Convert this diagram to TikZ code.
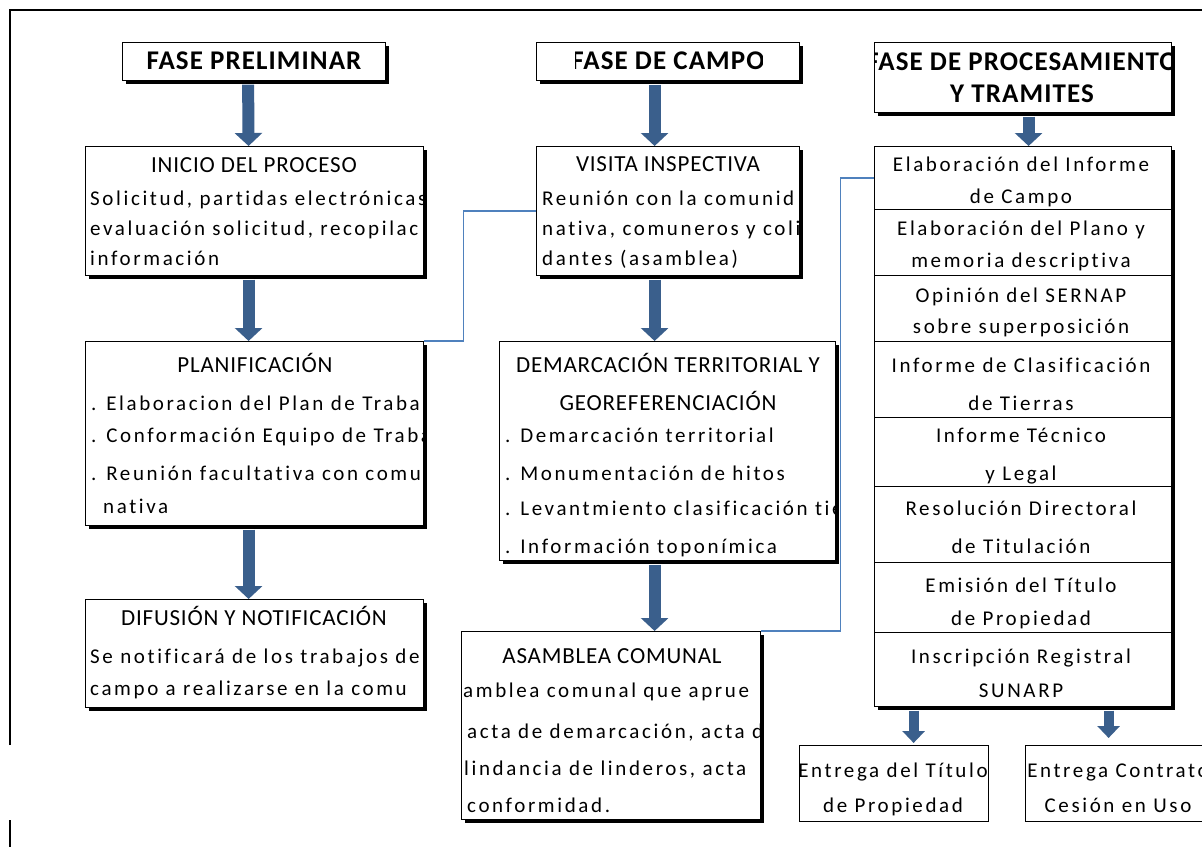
\documentclass[tikz,border=0pt]{standalone}
\usepackage{fontspec}
\setmainfont{Carlito}
\newfontfamily\bodyfont[LetterSpace=12.5, Ligatures=NoCommon, Contextuals=NoAlternate]{Carlito}
\newfontfamily\headfont[LetterSpace=3.5, Ligatures=NoCommon, Contextuals=NoAlternate]{Carlito}
\newfontfamily\titlefont[LetterSpace=4]{Carlito}
\usepackage{tikz}
\usetikzlibrary{arrows.meta,shadows}

\definecolor{arrowblue}{RGB}{58,95,140}
\definecolor{linkblue}{RGB}{79,129,189}

\tikzset{
  shadowbox/.style={draw, line width=1.2pt, fill=white, inner sep=0pt, anchor=north west,
    drop shadow={shadow xshift=3.5pt, shadow yshift=-3.5pt, fill=black, opacity=1}},
  plainbox/.style={draw, line width=1.2pt, fill=white, inner sep=0pt, anchor=north west},
  rowbox/.style={draw, line width=1.2pt, inner sep=0pt, anchor=north west, minimum width=297pt},
  titletxt/.style={anchor=base, inner sep=0pt, font=\titlefont\bfseries\fontsize{27}{30}\selectfont},
  headtxt/.style={anchor=base, inner sep=0pt, font=\headfont\fontsize{23}{26}\selectfont},
  bodytxt/.style={anchor=base west, inner sep=0pt, font=\bodyfont\fontsize{21}{24}\selectfont},
  celltxt/.style={anchor=base, inner sep=0pt, font=\bodyfont\fontsize{21}{24}\selectfont},
  blockarrow/.style={arrowblue, line width=12pt, -{Triangle[width=27pt, length=13pt]}},
  smallarrow/.style={arrowblue, line width=10pt, -{Triangle[width=22pt, length=12pt]}},
  link/.style={linkblue, line width=1.3pt},
}

\begin{document}
\begin{tikzpicture}[x=1pt, y=-1pt]

    %% Background
    \useasboundingbox (0,0) rectangle (1202,846);
    \fill[white] (0,0) rectangle (1202,846);

    % Frame
    \draw[line width=1.8pt] (10,745) -- (10,10) -- (1206,10);
    \draw[line width=1.8pt] (10,820) -- (10,850);

    % Titles
    \node[shadowbox, minimum width=263pt, minimum height=38pt] (prelim) at (122,42) {};
    \node[titletxt] (prelim-t) at (254,69) {FASE PRELIMINAR};

    \node[shadowbox, minimum width=263pt, minimum height=38pt] (campo) at (536,42) {};
    \begin{scope}
      \clip (575,42) rectangle (762,80);
      \node[titletxt] (campo-t) at (668,69) {FASE DE CAMPO};
    \end{scope}

    \node[shadowbox, minimum width=297pt, minimum height=70pt] (proces) at (874,42) {};
    \begin{scope}
      \clip (proces.north west) rectangle (proces.south east);
      \node[titletxt] (proces-t1) at (1022,70) {FASE DE PROCESAMIENTO};
      \node[titletxt] (proces-t2) at (1022,102) {Y TRAMITES};
    \end{scope}

    % Inicio del proceso
    \node[shadowbox, minimum width=338pt, minimum height=129pt] (inicio) at (85,146) {};
    \begin{scope}
      \clip (inicio.north west) rectangle (inicio.south east);
      \node[headtxt] (inicio-h) at (254,172) {INICIO DEL PROCESO};
      \foreach \yl/\tl in {205/{Solicitud, partidas electrónicas}, 235/{evaluación solicitud, recopilac}, 265/{información}}
        \node[bodytxt] (inicio-\yl) at (90,\yl) {\tl};
    \end{scope}

    % Planificacion
    \node[shadowbox, minimum width=338pt, minimum height=184pt] (planif) at (85,341) {};
    \begin{scope}
      \clip (planif.north west) rectangle (planif.south east);
      \node[headtxt] (planif-h) at (255,372) {PLANIFICACIÓN};
      \foreach \yl/\tl in {410/{. Elaboracion del Plan de Traba}, 442/{. Conformación Equipo de Traba}, 480/{. Reunión facultativa con comu}}
        \node[bodytxt] (planif-\yl) at (91,\yl) {\tl};
      \node[bodytxt] (planif-513) at (103,513) {nativa};
    \end{scope}

    % Difusion
    \node[shadowbox, minimum width=338pt, minimum height=108pt] (difus) at (85,599) {};
    \begin{scope}
      \clip (difus.north west) rectangle (difus.south east);
      \node[headtxt] (difus-h) at (254,625) {DIFUSIÓN Y NOTIFICACIÓN};
      \foreach \yl/\tl in {663/{Se notificará de los trabajos de}, 695/{campo a realizarse en la comu}}
        \node[bodytxt] (difus-\yl) at (90,\yl) {\tl};
    \end{scope}

    % Visita inspectiva
    \node[shadowbox, minimum width=263pt, minimum height=129pt] (visita) at (536,146) {};
    \begin{scope}
      \clip (visita.north west) rectangle (visita.south east);
      \node[headtxt] (visita-h) at (668,171) {VISITA INSPECTIVA};
      \foreach \yl/\tl in {205/{Reunión con la comunid}, 235/{nativa, comuneros y coli}, 265/{dantes (asamblea)}}
        \node[bodytxt] (visita-\yl) at (542,\yl) {\tl};
    \end{scope}

    % Demarcacion
    \node[shadowbox, minimum width=336pt, minimum height=219pt] (demarc) at (499,341) {};
    \begin{scope}
      \clip (demarc.north west) rectangle (demarc.south east);
      \node[headtxt] (demarc-h1) at (668,372) {DEMARCACIÓN TERRITORIAL Y};
      \node[headtxt] (demarc-h2) at (668,410) {GEOREFERENCIACIÓN};
      \foreach \yl/\tl in {442/{. Demarcación territorial}, 480/{. Monumentación de hitos}, 515/{. Levantmiento clasificación tie}, 553/{. Información toponímica}}
        \node[bodytxt] (demarc-\yl) at (505,\yl) {\tl};
    \end{scope}

    % Asamblea
    \node[shadowbox, minimum width=299pt, minimum height=188pt] (asamb) at (461,631) {};
    \begin{scope}
      \clip (asamb.north west) rectangle (asamb.south east);
      \node[headtxt] (asamb-h) at (612,663) {ASAMBLEA COMUNAL};
      \foreach \xl/\yl/\tl in {463/697/{amblea comunal que aprue}, 467/738/{acta de demarcación, acta d}, 464/775/{lindancia de linderos, acta}, 467/812/{conformidad.}}
        \node[bodytxt] (asamb-\yl) at (\xl,\yl) {\tl};
    \end{scope}

    % Tramites
    \node[shadowbox, minimum width=297pt, minimum height=560pt] (tramites) at (874,146) {};
    \foreach \n/\ya/\yb/\ba/\bb/\ta/\tb in {
        1/146/209/171/203/{Elaboración del Informe}/{de Campo},
        2/209/275/235/267/{Elaboración del Plano y}/{memoria descriptiva},
        3/275/341/302/333/{Opinión del SERNAP}/{sobre superposición},
        4/341/417/372/410/{Informe de Clasificación}/{de Tierras},
        5/417/486/442/480/{Informe Técnico}/{y Legal},
        6/486/562/515/553/{Resolución Directoral}/{de Titulación},
        7/562/632/592/625/{Emisión del Título}/{de Propiedad},
        8/632/706/663/697/{Inscripción Registral}/{SUNARP}}
    {
        \node[rowbox, minimum height={(\yb-\ya)*1pt}] (fila\n) at (874,\ya) {};
        \node[celltxt] (fila\n-a) at (1021,\ba) {\ta};
        \node[celltxt] (fila\n-b) at (1021,\bb) {\tb};
    }

    % Entregas
    \node[plainbox, minimum width=189pt, minimum height=76pt] (entrega1) at (799,745) {};
    \begin{scope}
      \clip (entrega1.north west) rectangle (entrega1.south east);
      \node[celltxt] (entrega1-a) at (893,777) {Entrega del Título};
      \node[celltxt] (entrega1-b) at (893,812) {de Propiedad};
    \end{scope}

    \node[plainbox, minimum width=200pt, minimum height=76pt] (entrega2) at (1025,745) {};
    \node[celltxt] (entrega2-a) at (1118,777) {Entrega Contrato};
    \node[celltxt] (entrega2-b) at (1118,812) {Cesión en Uso};

    % Arrows
    \draw[blockarrow] ([xshift=-6pt, yshift=-3.5pt]prelim.south) -- ([xshift=-6pt]inicio.north);
    \draw[blockarrow] ([xshift=-6pt, yshift=-3.5pt]inicio.south) -- ([xshift=-6pt]planif.north);
    \draw[blockarrow] ([xshift=-6pt, yshift=-3.5pt]planif.south) -- ([xshift=-6pt]difus.north);
    \draw[blockarrow] ([xshift=-13.5pt, yshift=-3.5pt]campo.south) -- ([xshift=-13.5pt]visita.north);
    \draw[blockarrow] ([xshift=-13.5pt, yshift=-3.5pt]visita.south) -- ([xshift=-13pt]demarc.north);
    \draw[blockarrow] ([xshift=-13pt, yshift=-3.5pt]demarc.south) -- ([xshift=43.5pt]asamb.north);
    \draw[blockarrow] ([xshift=5.5pt, yshift=-3.5pt]proces.south) -- ([xshift=5.5pt]tramites.north);
    \draw[smallarrow] ([xshift=-109.5pt, yshift=-3.5pt]tramites.south) -- ([xshift=19.5pt, yshift=2pt]entrega1.north);
    \draw[smallarrow] ([xshift=85.5pt, yshift=-3.5pt]tramites.south) -- ([xshift=-17pt, yshift=7pt]entrega2.north);

    % Links
    \draw[link] (planif.north east) -- ++(39,0) |- (visita.west);
    \draw[link] (asamb.north east) -- ++(79,0) |- (fila1.west);

\end{tikzpicture}
\end{document}
